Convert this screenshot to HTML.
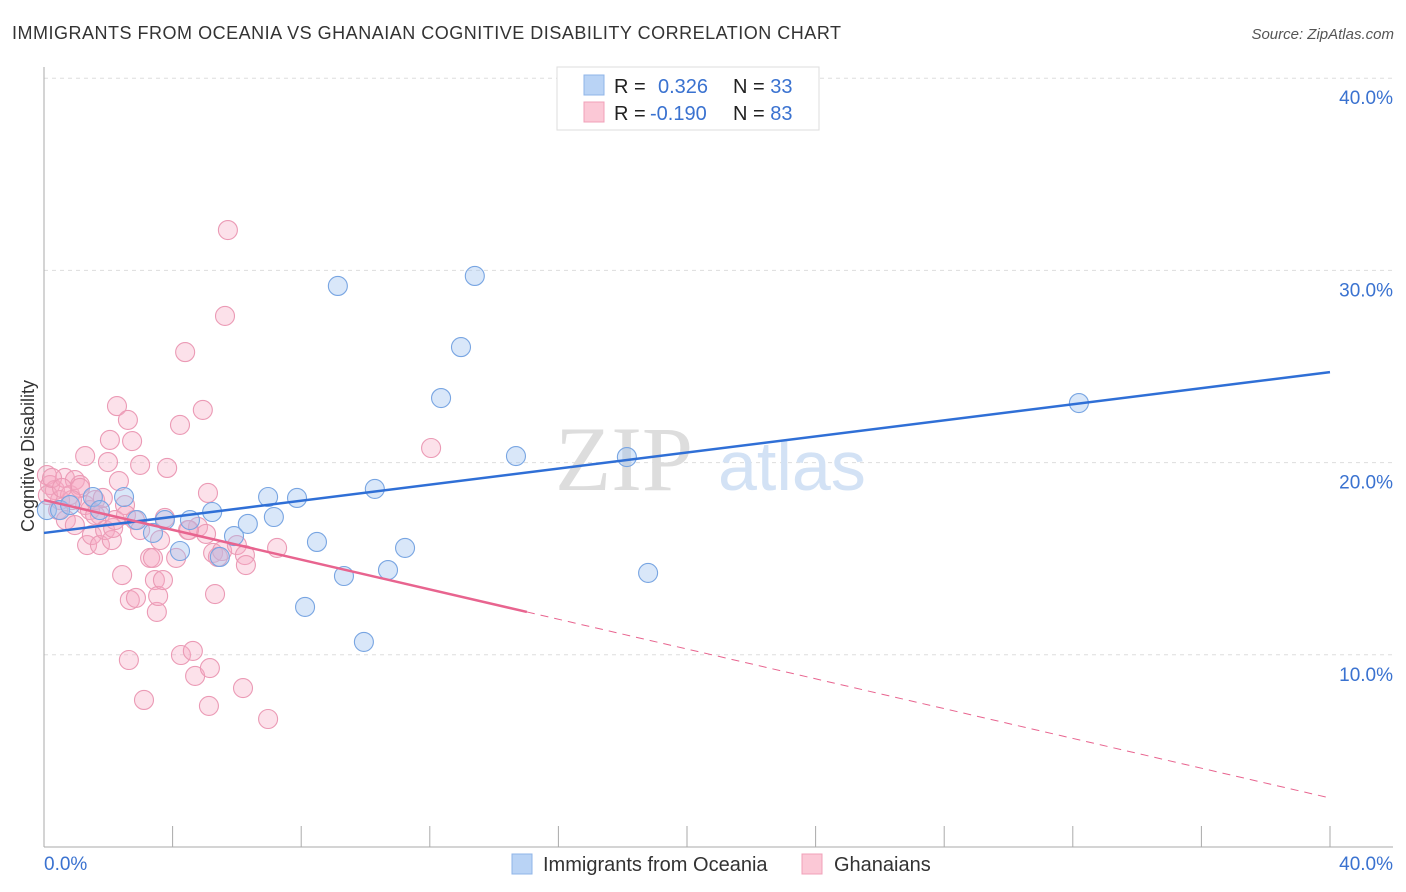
<!DOCTYPE html>
<html><head><meta charset="utf-8"><style>
body{margin:0;background:#fff;font-family:"Liberation Sans",sans-serif;}
</style></head><body>
<svg id="chart" width="1406" height="892" xmlns="http://www.w3.org/2000/svg" style="display:block">
<text x="12" y="39" font-size="18" fill="#333" textLength="829">IMMIGRANTS FROM OCEANIA VS GHANAIAN COGNITIVE DISABILITY CORRELATION CHART</text>
<text x="1394" y="39" font-size="15" fill="#555" text-anchor="end" font-style="italic">Source: ZipAtlas.com</text>
<g id="grid"></g>
<g>
<text x="555" y="490" font-size="92" fill="#ddd" font-family="Liberation Serif">ZIP</text>
<text x="718" y="490" font-size="70" fill="#d3e2f5">atlas</text>
</g>
<g id="axes"></g>
<g id="pts"></g>
<g id="trends"></g>
<text transform="translate(34,456) rotate(-90)" font-size="18" fill="#333" text-anchor="middle">Cognitive Disability</text>
<g>
<rect x="557" y="67" width="262" height="63" fill="#fff" stroke="#ddd"/>
<rect x="584" y="75" width="20" height="20" fill="#b9d3f5" stroke="#8fb5e8"/>
<rect x="584" y="102" width="20" height="20" fill="#fbc8d6" stroke="#f0a0b8"/>
<text x="614" y="93" font-size="20" fill="#222">R = <tspan fill="#3a72d0" x="658">0.326</tspan><tspan fill="#222" x="733">N = </tspan><tspan fill="#3a72d0">33</tspan></text>
<text x="614" y="120" font-size="20" fill="#222">R = <tspan fill="#3a72d0" x="650">-0.190</tspan><tspan fill="#222" x="733">N = </tspan><tspan fill="#3a72d0">83</tspan></text>
</g>
<g>
<rect x="512" y="854" width="20" height="20" fill="#b9d3f5" stroke="#8fb5e8"/>
<text x="543" y="871" font-size="20" fill="#333">Immigrants from Oceania</text>
<rect x="802" y="854" width="20" height="20" fill="#fbc8d6" stroke="#f0a0b8"/>
<text x="834" y="871" font-size="20" fill="#333">Ghanaians</text>
</g>
</svg>
<script>
const yTicks=[10,20,30,40];
const yTickLabels=["10.0%","20.0%","30.0%","40.0%"];
const xTickVals=[0,4,8,12,16,20,24,28,32,36,40];
const blueX=[0.09,1.52,2.49,2.89,3.39,4.23,4.54,5.23,5.47,5.91,6.34,6.97,7.15,7.87,8.49,9.14,9.33,8.12,9.95,10.29,10.70,11.23,12.35,12.97,13.40,14.68,18.13,18.79,32.19,0.50,0.81,1.74,3.76];
const blueY=[17.53,18.21,18.21,17.01,16.34,15.40,17.01,17.43,15.09,16.18,16.81,18.21,17.17,18.16,15.87,29.19,14.10,12.49,10.67,18.63,14.41,15.56,23.36,26.01,29.71,20.34,20.29,14.26,23.10,17.53,17.79,17.53,17.01];
const pinkX=[0.09,0.19,0.34,0.50,0.65,0.81,0.96,1.12,1.28,1.43,1.59,1.74,0.12,0.44,0.68,0.96,1.12,1.28,1.34,1.49,1.74,1.83,1.90,1.99,2.05,2.11,2.15,2.21,2.27,2.33,2.43,2.52,2.55,2.61,2.64,2.67,2.74,2.83,2.86,2.99,3.11,3.30,3.39,3.45,3.51,3.55,3.70,3.76,3.83,4.11,4.23,4.26,4.39,4.48,4.63,4.70,4.79,4.94,5.04,5.10,5.13,5.16,5.26,5.32,5.41,5.54,5.63,5.72,6.00,6.19,6.25,6.28,6.97,7.25,12.04,4.51,3.61,0.87,2.99,0.25,0.56,1.59];
const pinkY=[19.35,18.83,18.57,18.05,19.20,18.31,19.09,18.83,17.79,17.53,18.05,17.27,18.31,17.53,17.01,16.75,18.68,20.34,15.71,16.23,15.71,18.16,16.49,20.03,21.18,15.97,16.60,17.01,22.94,19.04,14.15,17.79,17.27,22.22,9.73,12.85,21.12,17.01,12.96,16.49,7.65,15.04,15.04,13.89,12.23,13.06,13.89,17.12,19.72,15.04,21.96,9.99,25.75,16.49,10.20,8.90,16.65,22.74,16.29,18.42,7.34,9.31,15.30,13.16,15.09,15.40,27.63,32.10,15.71,8.27,15.19,14.67,6.66,15.56,20.76,16.49,15.97,18.05,19.88,19.20,18.68,17.27];
const blueTrend=[[0,16.34],[40,24.71]];
const pinkTrend=[[0,18.05],[15.02,12.23],[40,2.55]];
const NS="http://www.w3.org/2000/svg";
const X=v=>44+v/40*1286, Y=v=>847-v*19.22;
function mk(t,a,p){const e=document.createElementNS(NS,t);for(const k in a)e.setAttribute(k,a[k]);p.appendChild(e);return e;}
const grid=document.getElementById('grid'),axes=document.getElementById('axes');
yTicks.forEach((t,i)=>{
 const l=mk('line',{x1:44,x2:1393,y1:Y(t),y2:Y(t),stroke:'#ddd','stroke-dasharray':'4,4'},grid);
 
 
 const tx=mk('text',{x:1393,y:Y(t)+26,'font-size':19,fill:'#3a72d0','text-anchor':'end'},axes);
 tx.textContent=yTickLabels[i];
 
 
});
mk('line',{x1:44,x2:44,y1:67,y2:847,stroke:'#aaa'},axes);
mk('line',{x1:44,x2:1393,y1:847,y2:847,stroke:'#aaa'},axes);
xTickVals.forEach(v=>{const t=mk('line',{x1:X(v),x2:X(v),y1:826,y2:847,stroke:'#aaa'},axes);
 
 });
const a=mk('text',{x:44,y:870,'font-size':19,fill:'#3a72d0'},axes);a.textContent='0.0%';


const b=mk('text',{x:1393,y:870,'font-size':19,fill:'#3a72d0','text-anchor':'end'},axes);b.textContent='40.0%';


const pts=document.getElementById('pts');
pinkX.forEach((x,i)=>{const c=mk('circle',{cx:X(x),cy:Y(pinkY[i]),r:9.5,fill:'rgba(246,170,196,0.35)',stroke:'#eb9ab5','stroke-width':1.1},pts);
 
 });
blueX.forEach((x,i)=>{const c=mk('circle',{cx:X(x),cy:Y(blueY[i]),r:9.5,fill:'rgba(160,196,240,0.4)',stroke:'#78a5e2','stroke-width':1.1},pts);
 
 });
const tr=document.getElementById('trends');
const bl=mk('line',{x1:X(blueTrend[0][0]),y1:Y(blueTrend[0][1]),x2:X(blueTrend[1][0]),y2:Y(blueTrend[1][1]),stroke:'#2f6fd6','stroke-width':2.5},tr);


const pl=mk('line',{x1:X(pinkTrend[0][0]),y1:Y(pinkTrend[0][1]),x2:X(pinkTrend[1][0]),y2:Y(pinkTrend[1][1]),stroke:'#e8648f','stroke-width':2.5},tr);


const pd=mk('line',{x1:X(pinkTrend[1][0]),y1:Y(pinkTrend[1][1]),x2:X(pinkTrend[2][0]),y2:Y(pinkTrend[2][1]),stroke:'#e8648f','stroke-width':1,'stroke-dasharray':'8,6'},tr);


</script>
</body></html>
